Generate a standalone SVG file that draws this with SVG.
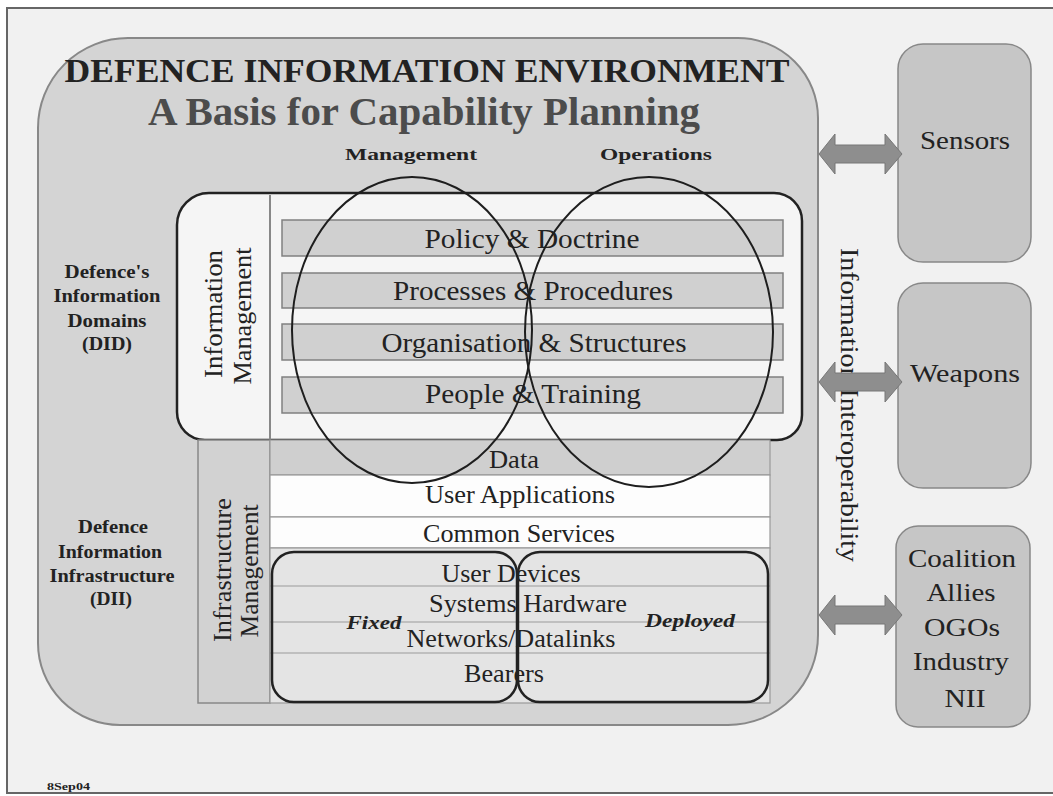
<svg xmlns="http://www.w3.org/2000/svg" width="1053" height="796" viewBox="0 0 1053 796">
<style>
.serif{font-family:"Liberation Serif","Times New Roman",serif;fill:#222}
.b{font-weight:bold}
.c{text-anchor:middle}
.bar{fill:#d0d0d0;stroke:#808080;stroke-width:1.5}
.row{stroke:#999;stroke-width:1.2}
.side{fill:#c6c6c6;stroke:#888;stroke-width:1.5}
.arrow{fill:#8e8e8e;stroke:#777;stroke-width:1}
.dark{fill:none;stroke:#222;stroke-width:2.5}
.ell{fill:none;stroke:#1e1e1e;stroke-width:2}
</style>
<rect x="0" y="0" width="1053" height="796" fill="#ffffff"/>
<rect id="frame" x="7" y="8" width="1060" height="785" fill="#f1f1f1" stroke="#666" stroke-width="2"/>

<g id="environment">
<path d="M38,128 A90,90 0 0 1 128,38 L738,38 A80,80 0 0 1 818,118 L818,635 A90,90 0 0 1 728,725 L120,725 A82,82 0 0 1 38,643 Z" fill="#d4d4d4" stroke="#888" stroke-width="2"/>
<text class="serif b c" x="427" y="82" font-size="34" textLength="725" lengthAdjust="spacingAndGlyphs">DEFENCE INFORMATION ENVIRONMENT</text>
<text class="serif b c" x="424" y="125" font-size="40" fill="#4c4c4c" style="fill:#4c4c4c" textLength="552" lengthAdjust="spacingAndGlyphs">A Basis for Capability Planning</text>
<text class="serif b c" x="411" y="160" font-size="17" textLength="132" lengthAdjust="spacingAndGlyphs">Management</text>
<text class="serif b c" x="656" y="160" font-size="17" textLength="112" lengthAdjust="spacingAndGlyphs">Operations</text>
</g>

<g id="did-label">
<text class="serif b c" x="107" y="278" font-size="18" textLength="85" lengthAdjust="spacingAndGlyphs">Defence's</text>
<text class="serif b c" x="107" y="302" font-size="18" textLength="107" lengthAdjust="spacingAndGlyphs">Information</text>
<text class="serif b c" x="107" y="327" font-size="18" textLength="79" lengthAdjust="spacingAndGlyphs">Domains</text>
<text class="serif b c" x="107" y="350" font-size="18" textLength="50" lengthAdjust="spacingAndGlyphs">(DID)</text>
</g>

<g id="dii-label">
<text class="serif b c" x="113" y="533" font-size="18" textLength="70" lengthAdjust="spacingAndGlyphs">Defence</text>
<text class="serif b c" x="110" y="558" font-size="18" textLength="104" lengthAdjust="spacingAndGlyphs">Information</text>
<text class="serif b c" x="112" y="582" font-size="18" textLength="125" lengthAdjust="spacingAndGlyphs">Infrastructure</text>
<text class="serif b c" x="111" y="605" font-size="18" textLength="42" lengthAdjust="spacingAndGlyphs">(DII)</text>
</g>

<g id="information-management">
<path d="M209,193 L774,193 A28,28 0 0 1 802,221 L802,415 A25,25 0 0 1 777,440 L205,440 A28,28 0 0 1 177,412 L177,225 A32,32 0 0 1 209,193 Z" fill="#f5f5f5" stroke="#222" stroke-width="2.5"/>
<line x1="270" y1="195" x2="270" y2="439" stroke="#888" stroke-width="2"/>
<text class="serif" transform="translate(222,314) rotate(-90)" text-anchor="middle" font-size="26" textLength="128" lengthAdjust="spacingAndGlyphs">Information</text>
<text class="serif" transform="translate(251,316) rotate(-90)" text-anchor="middle" font-size="26" textLength="137" lengthAdjust="spacingAndGlyphs">Management</text>
</g>

<g id="policy">
<rect class="bar" x="282" y="220" width="501" height="36"/>
<text class="serif c" x="532" y="248" font-size="27" textLength="215" lengthAdjust="spacingAndGlyphs">Policy &amp; Doctrine</text>
</g>
<g id="processes">
<rect class="bar" x="282" y="273" width="501" height="35"/>
<text class="serif c" x="533" y="300" font-size="27" textLength="280" lengthAdjust="spacingAndGlyphs">Processes &amp; Procedures</text>
</g>
<g id="organisation">
<rect class="bar" x="282" y="324" width="501" height="36"/>
<text class="serif c" x="534" y="352" font-size="27" textLength="305" lengthAdjust="spacingAndGlyphs">Organisation &amp; Structures</text>
</g>
<g id="people">
<rect class="bar" x="282" y="377" width="501" height="36"/>
<text class="serif c" x="533" y="403" font-size="27" textLength="216" lengthAdjust="spacingAndGlyphs">People &amp; Training</text>
</g>

<g id="infrastructure-management">
<rect x="198" y="440" width="72" height="263" fill="#d2d2d2" stroke="#888" stroke-width="1.5"/>
<text class="serif" transform="translate(231,570) rotate(-90)" text-anchor="middle" font-size="26" textLength="144" lengthAdjust="spacingAndGlyphs">Infrastructure</text>
<text class="serif" transform="translate(258,571) rotate(-90)" text-anchor="middle" font-size="26" textLength="133" lengthAdjust="spacingAndGlyphs">Management</text>
</g>

<g id="data">
<rect class="row" x="270" y="440" width="500" height="35" fill="#cfcfcf"/>
<text class="serif c" x="514" y="468" font-size="25" textLength="50" lengthAdjust="spacingAndGlyphs">Data</text>
</g>
<g id="user-applications">
<rect class="row" x="270" y="475" width="500" height="42" fill="#fdfdfd"/>
<text class="serif c" x="520" y="503" font-size="25" textLength="190" lengthAdjust="spacingAndGlyphs">User Applications</text>
</g>
<g id="common-services">
<rect class="row" x="270" y="517" width="500" height="31" fill="#fdfdfd"/>
<text class="serif c" x="519" y="542" font-size="25" textLength="192" lengthAdjust="spacingAndGlyphs">Common Services</text>
</g>
<g id="lower-layers">
<rect class="row" x="270" y="548" width="500" height="155" fill="#e4e4e4"/>
<line class="row" x1="270" y1="586" x2="770" y2="586"/>
<line class="row" x1="270" y1="622" x2="770" y2="622"/>
<line class="row" x1="270" y1="653" x2="770" y2="653"/>
<text class="serif c" x="511" y="582" font-size="25" textLength="139" lengthAdjust="spacingAndGlyphs">User Devices</text>
<text class="serif c" x="528" y="612" font-size="25" textLength="198" lengthAdjust="spacingAndGlyphs">Systems Hardware</text>
<text class="serif c" x="511" y="647" font-size="25" textLength="209" lengthAdjust="spacingAndGlyphs">Networks/Datalinks</text>
<text class="serif c" x="504" y="682" font-size="25" textLength="80" lengthAdjust="spacingAndGlyphs">Bearers</text>
</g>

<g id="fixed">
<rect class="dark" x="272" y="552" width="245" height="150" rx="22"/>
<text class="serif b c" x="374" y="629" font-size="18" font-style="italic" textLength="55" lengthAdjust="spacingAndGlyphs">Fixed</text>
</g>
<g id="deployed">
<rect class="dark" x="518" y="552" width="250" height="150" rx="22"/>
<text class="serif b c" x="690" y="627" font-size="18" font-style="italic" textLength="90" lengthAdjust="spacingAndGlyphs">Deployed</text>
</g>

<g id="management-ellipse">
<ellipse class="ell" cx="412" cy="330" rx="120" ry="153"/>
</g>
<g id="operations-ellipse">
<ellipse class="ell" cx="649" cy="332" rx="124" ry="155"/>
</g>

<g id="interoperability">
<text class="serif" transform="translate(841,405) rotate(90)" text-anchor="middle" font-size="26" textLength="314" lengthAdjust="spacingAndGlyphs">Information Interoperability</text>
</g>

<g id="sensors">
<rect class="side" x="898" y="44" width="133" height="218" rx="25"/>
<text class="serif c" x="965" y="149" font-size="26" textLength="90" lengthAdjust="spacingAndGlyphs">Sensors</text>
</g>
<g id="weapons">
<rect class="side" x="898" y="283" width="133" height="205" rx="25"/>
<text class="serif c" x="965" y="382" font-size="26" textLength="110" lengthAdjust="spacingAndGlyphs">Weapons</text>
</g>
<g id="coalition">
<rect class="side" x="896" y="526" width="134" height="201" rx="22"/>
<text class="serif c" x="962" y="567" font-size="26" textLength="108" lengthAdjust="spacingAndGlyphs">Coalition</text>
<text class="serif c" x="961" y="601" font-size="26" textLength="69" lengthAdjust="spacingAndGlyphs">Allies</text>
<text class="serif c" x="962" y="636" font-size="26" textLength="76" lengthAdjust="spacingAndGlyphs">OGOs</text>
<text class="serif c" x="961" y="670" font-size="26" textLength="96" lengthAdjust="spacingAndGlyphs">Industry</text>
<text class="serif c" x="965" y="707" font-size="26" textLength="41" lengthAdjust="spacingAndGlyphs">NII</text>
</g>

<g id="connectors">
<polygon class="arrow" points="819,154 835,134 835,145 885,145 885,134 902,154 885,174 885,163 835,163 835,174"/>
<polygon class="arrow" points="819,382 835,362 835,373 885,373 885,362 902,382 885,402 885,391 835,391 835,402"/>
<polygon class="arrow" points="819,615 835,595 835,606 885,606 885,595 902,615 885,635 885,624 835,624 835,635"/>
</g>

<text class="serif b" x="47" y="790" font-size="10" textLength="43" lengthAdjust="spacingAndGlyphs">8Sep04</text>
</svg>
